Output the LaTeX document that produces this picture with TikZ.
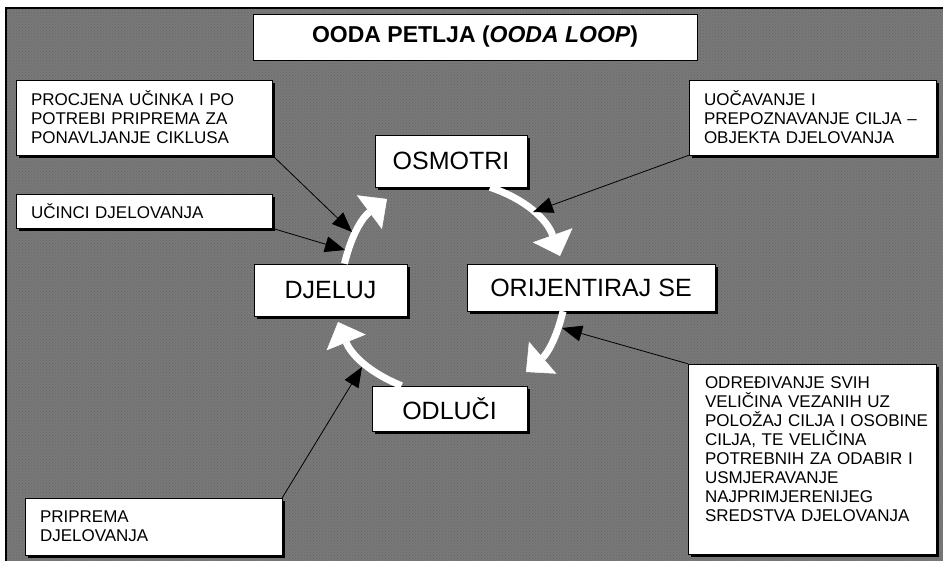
\documentclass[tikz,border=0pt]{standalone}
\usepackage{fontspec}
\setmainfont{Liberation Sans}
\usetikzlibrary{arrows.meta}
\usetikzlibrary{shadows}
\usetikzlibrary{patterns}

\begin{document}
\begin{tikzpicture}[x=1pt,y=-1pt,
  box/.style={draw=black,line width=0.6pt,fill=white,
    drop shadow={shadow xshift=3pt,shadow yshift=-3pt,opacity=1,fill=black}},
  phase/.style={box,font=\fontsize{25}{28}\selectfont,inner sep=0pt},
  note/.style={box,font=\fontsize{17}{19}\selectfont,align=left,inner xsep=15pt,inner ysep=0pt},
  loop/.style={white,line width=7pt,-{Triangle[length=22pt,width=42pt,line width=0.5pt,fill=white]}},
  pointer/.style={black,line width=0.8pt,-{Triangle[length=20pt,width=16pt]}}]

\useasboundingbox (0,0) rectangle (943,560);
\clip (0,0) rectangle (943,560);
\fill[gray!95!black] (6,8) rectangle (960,580);
\fill[pattern=crosshatch dots,pattern color=black!60] (6,8) rectangle (960,580);
\draw[line width=1.5pt] (6,8) rectangle (960,580);

% naslov
\node[draw,line width=0.6pt,fill=white,minimum width=444pt,minimum height=46pt,
  font=\fontsize{23}{26}\selectfont\bfseries] (title) at (475,37) {OODA PETLJA (\textit{OODA LOOP})};

% faze petlje
\node[phase,minimum width=152pt,minimum height=52pt] (osmotri) at (451,161) {OSMOTRI};
\node[phase,minimum width=248pt,minimum height=47pt] (orijentiraj) at (591,287.5) {ORIJENTIRAJ SE};
\node[phase,minimum width=155pt,minimum height=45pt] (odluci) at (449.5,408.5) {ODLUČI};
\node[phase,minimum width=153pt,minimum height=52pt] (djeluj) at (330.5,290) {DJELUJ};

% opisi
\node[note,text width=226pt,minimum height=75pt] (procjena) at (144,117.5)
  {PROCJENA UČINKA I PO\\POTREBI PRIPREMA ZA\\PONAVLJANJE CIKLUSA};
\node[note,text width=226pt,minimum height=34pt] (ucinci) at (144,211) {UČINCI DJELOVANJA};
\node[note,text width=217pt,minimum height=75pt] (uocavanje) at (812.5,117.5)
  {UOČAVANJE I\\\mbox{PREPOZNAVANJE CILJA –}\\OBJEKTA DJELOVANJA};
\node[note,inner xsep=17pt,text width=214pt,minimum height=190pt] (odredjivanje) at (812,459)
  {ODREĐIVANJE SVIH\\VELIČINA VEZANIH UZ\\\mbox{POLOŽAJ CILJA I OSOBINE}\\CILJA, TE VELIČINA\\POTREBNIH ZA ODABIR I\\USMJERAVANJE\\NAJPRIMJERENIJEG\\SREDSTVA DJELOVANJA\\\mbox{}};
\node[note,text width=227pt,minimum height=57pt] (priprema) at (153.5,526.5)
  {PRIPREMA\\DJELOVANJA};

% vrhovi strelica
\coordinate (t1) at (560,256);
\coordinate (t2) at (526,372);
\coordinate (t3) at (338,322);
\coordinate (t4) at (387,199);
\coordinate (p1) at (352,232);
\coordinate (p2) at (345,250);
\coordinate (p3) at (533,212);
\coordinate (p4) at (562,328);
\coordinate (p5) at (362,367);

% ciklus
\draw[loop] ([xshift=39pt]osmotri.south) to[bend left=26] (t1);
\draw[loop] ([xshift=-28pt]orijentiraj.south) to[bend left=18] (t2);
\draw[loop] ([xshift=-48pt]odluci.north) to[bend left=23] (t3);
\draw[loop] ([xshift=14pt]djeluj.north) to[bend left=20] (t4);

% pokazivaci
\draw[pointer] (procjena.south east) -- (p1);
\draw[pointer] (ucinci.south east) -- (p2);
\draw[pointer] (uocavanje.south west) -- (p3);
\draw[pointer] (odredjivanje.north west) -- (p4);
\draw[pointer] (priprema.north east) -- (p5);
\end{tikzpicture}
\end{document}
